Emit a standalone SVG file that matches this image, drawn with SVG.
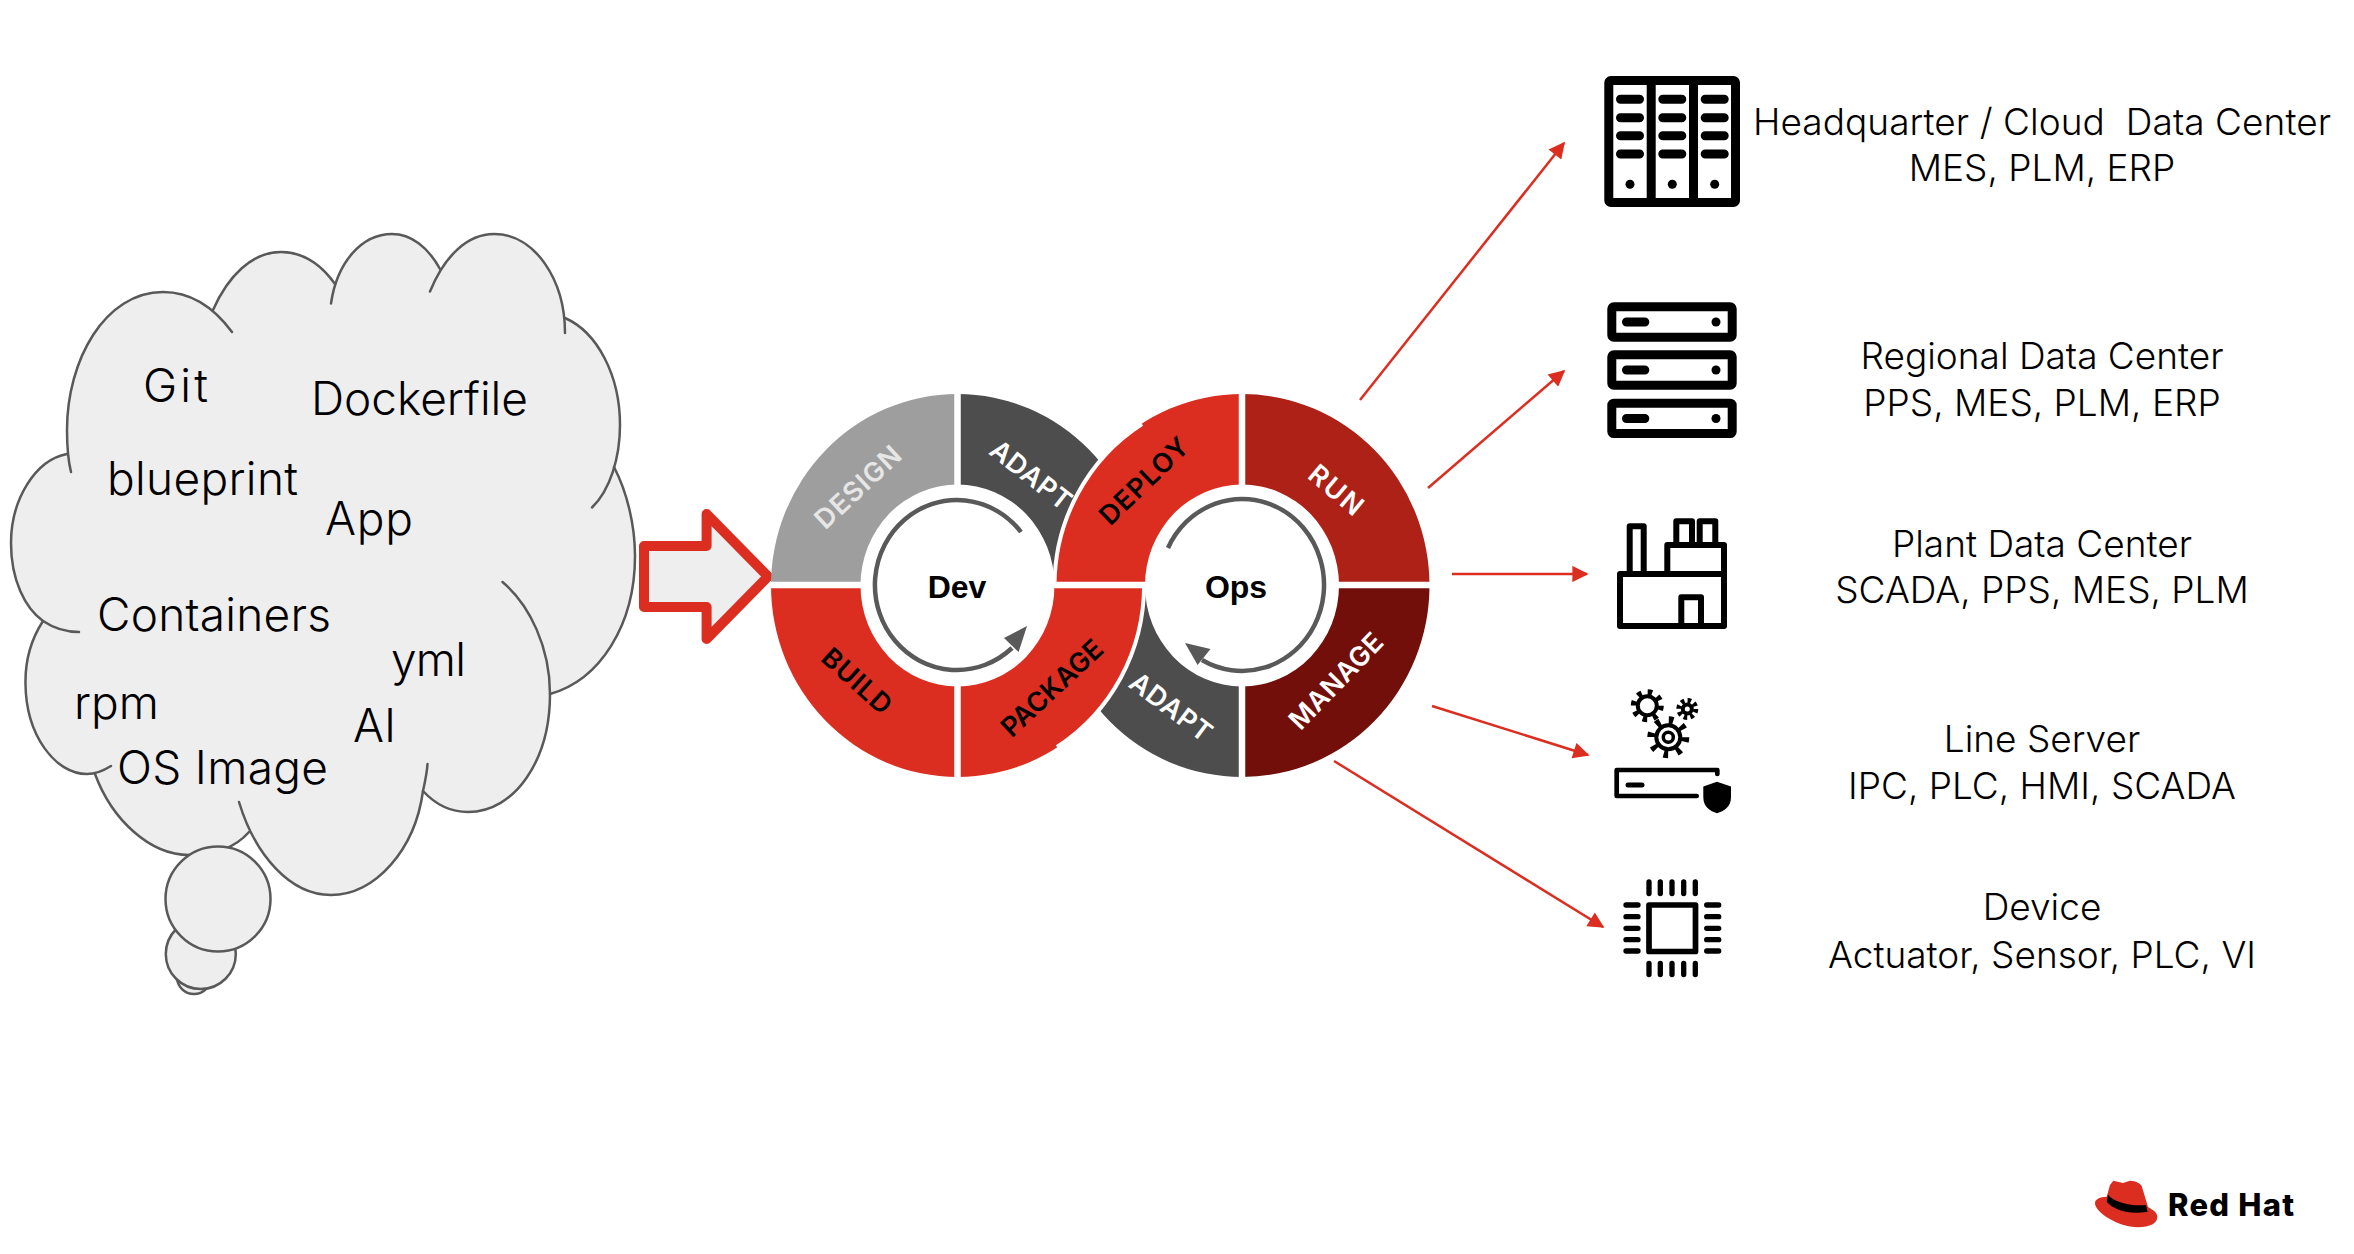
<svg xmlns="http://www.w3.org/2000/svg" width="2354" height="1254" viewBox="0 0 2354 1254">
<defs>
<style>
.c{fill:none;stroke:#595959;stroke-width:2.5;stroke-linecap:round}
.t{font-family:"Inter","Liberation Sans",sans-serif;font-size:46px;font-weight:350;fill:#000}
.r{font-family:"Inter","Liberation Sans",sans-serif;font-size:37px;font-weight:350;fill:#000;text-anchor:middle;white-space:pre}
.l{font-family:"Inter","Liberation Sans",sans-serif;font-size:27px;font-weight:600;text-anchor:middle;dominant-baseline:central}
.w{fill:#fff}.k{fill:#000}
.d{fill:#4d4d4d}.e{fill:#dc2e20}
.a{stroke:#dc2e20;stroke-width:2.5;fill:none;marker-end:url(#h)}
.i{fill:none;stroke:#000;stroke-linejoin:round;stroke-linecap:round}
.g{font-family:"Liberation Sans",sans-serif;font-size:32px;font-weight:700;text-anchor:middle;fill:#000}
</style>
<marker id="h" viewBox="0 0 10 10" refX="9" refY="5" markerWidth="8" markerHeight="6.5" orient="auto" markerUnits="strokeWidth"><path d="M0,0L10,5L0,10Z" fill="#dc2e20"/></marker>
</defs>
<rect width="2354" height="1254" fill="#fff"/>
<g id="cloud">
<path fill="#eee" d="M67,454C35,460 11,500 11,543C11,580 25,608 43,621C32,638 25,660 25.5,684C26,735 55,774 87,774L95,774C112,820 150,855 189,855C215,855 235,848 249,832C270,870 300,895 331,895C375,895 415,850 423,791C435,804 450,812 468,812C515,812 550,760 550,694C600,680 635,625 635,556C635,525 627,492 614,467C618,455 620,440 620,425C620,375 597,332 565,318C560,272 535,234 494,234C468,234 450,250 440,269C428,247 411,234 392,234C367,234 345,252 335,284C320,263 302,252 281,252C252,252 228,276 213,310C197,298 180,292 163,292C105,292 67,360 67,430Z"/>
<path class="c" d="M232,332C212,305 190,292 163,292C105,292 67,360 67,430C67,445 68,460 71,472"/>
<path class="c" d="M67,454C35,460 11,500 11,543C11,580 25,608 43,621C55,629 67,632 79,632"/>
<path class="c" d="M43,621C32,638 25,660 25.5,684C26,735 55,774 87,774C95,774 103,771 111,766"/>
<path class="c" d="M95,774C112,820 150,855 189,855C215,855 235,848 249,832"/>
<path class="c" d="M239,802C255,855 290,895 331,895C375,895 415,850 423,791C425,782 427,773 427.5,764"/>
<path class="c" d="M423,791C435,804 450,812 468,812C515,812 550,760 550,694C550,648 530,605 502.5,582"/>
<path class="c" d="M550,694C600,680 635,625 635,556C635,525 627,492 614,467"/>
<path class="c" d="M592,507.5C610,490 620,458 620,425C620,375 597,332 565,318"/>
<path class="c" d="M565,333C565,280 535,234 494,234C468,234 445,255 430,291.5"/>
<path class="c" d="M440,269C428,247 411,234 392,234C362,234 337,262 331,303.5"/>
<path class="c" d="M335,284C320,263 302,252 281,252C252,252 228,276 213,310"/>
<circle cx="194" cy="977" r="17" fill="#eee" stroke="#595959" stroke-width="2.5"/>
<circle cx="200.8" cy="954" r="35" fill="#eee" stroke="#595959" stroke-width="2.5"/>
<circle cx="218" cy="899" r="52.5" fill="#eee" stroke="#595959" stroke-width="2.5"/>
<text class="t" x="143" y="402" textLength="65">Git</text>
<text class="t" x="311" y="415" textLength="217">Dockerfile</text>
<text class="t" x="107" y="495" textLength="191">blueprint</text>
<text class="t" x="325" y="535" textLength="88">App</text>
<text class="t" x="97" y="631" textLength="234">Containers</text>
<text class="t" x="391" y="676" textLength="75">yml</text>
<text class="t" x="74" y="719" textLength="85">rpm</text>
<text class="t" x="353" y="742">AI</text>
<text class="t" x="117" y="784" textLength="211">OS Image</text>
</g>
<g id="big-arrow">
<path d="M644,546H706.6V514L768,576.5L706.6,639V607H644Z" fill="#eee" stroke="#dc2e20" stroke-width="10" stroke-linejoin="round"/>
</g>
<g id="loop">
<path id="q-design" fill="#9e9e9e" d="M957.5,394A186.6,191.5 0 0 0 771,585.5H860.5A97,101 0 0 1 957.5,484.5Z"/>
<path id="q-adapt1" class="d" d="M957.5,394A186.6,191.5 0 0 1 1144.1,585.5H1054.5A97,101 0 0 0 957.5,484.5Z"/>
<path id="q-build" class="e" d="M957.5,777A186.6,191.5 0 0 1 771,585.5H860.5A97,101 0 0 0 957.5,686.5Z"/>
<path id="q-run" fill="#ad2117" d="M1242,394A187.5,191.5 0 0 1 1429.5,585.5H1339A97,101 0 0 0 1242,484.5Z"/>
<path id="q-manage" fill="#730f0a" d="M1242,777A187.5,191.5 0 0 0 1429.5,585.5H1339A97,101 0 0 1 1242,686.5Z"/>
<path id="q-adapt2" class="d" d="M1242,777A187.5,191.5 0 0 1 1054.5,585.5H1145A97,101 0 0 0 1242,686.5Z"/>
<text class="l" fill="#e6e6e6" transform="translate(858,487) rotate(-43)" textLength="107">DESIGN</text>
<text class="l" fill="#fff" transform="translate(1031,475) rotate(38)" textLength="95">ADAPT</text>
<text class="l" fill="#000" transform="translate(857,681) rotate(42)" textLength="84">BUILD</text>
<text class="l" fill="#fff" transform="translate(1336,490) rotate(40)" textLength="62">RUN</text>
<text class="l" fill="#fff" transform="translate(1336,681) rotate(-46)" textLength="122">MANAGE</text>
<text class="l" fill="#fff" transform="translate(1171,707) rotate(37)" textLength="95">ADAPT</text>
<path id="q-deploy" class="e" d="M1242,394A187.5,191.5 0 0 0 1054.5,585.5H1145A97,101 0 0 1 1242,484.5Z"/>
<path fill="none" stroke="#fff" stroke-width="4" d="M1142,424A187.5,191.5 0 0 0 1054.5,585.5"/>
<path id="q-package" class="e" d="M957.5,777A186.6,191.5 0 0 0 1144.1,585.5H1054.5A97,101 0 0 1 957.5,686.5Z"/>
<path fill="none" stroke="#fff" stroke-width="4" d="M1057,747A186.6,191.5 0 0 0 1144.1,585.5"/>
<text class="l" fill="#000" transform="translate(1144,481) rotate(-44)" textLength="112">DEPLOY</text>
<text class="l" fill="#000" transform="translate(1052,688) rotate(-43)" textLength="128">PACKAGE</text>
<g stroke="#fff" stroke-width="6.5" fill="none">
<path d="M771,585H1430M957.5,390V490M957.5,680V780M1242,390V490M1242,680V780"/>
</g>
<path d="M1021,532A82,85 0 1 0 1012,648" fill="none" stroke="#595959" stroke-width="4.5"/>
<path d="M1027,626L1004,638L1018.6,652Z" fill="#595959"/>
<path d="M1168,548A82,86 0 1 1 1202,660" fill="none" stroke="#595959" stroke-width="4.5"/>
<path d="M1185,643L1210.5,649L1197.6,665Z" fill="#595959"/>
<text class="g" x="957" y="598">Dev</text>
<text class="g" x="1236" y="598">Ops</text>
</g>
<g id="connectors">
<path class="a" d="M1360,400L1564,143"/>
<path class="a" d="M1428,488L1564,371"/>
<path class="a" d="M1452,574L1587,574"/>
<path class="a" d="M1432,706L1588,755"/>
<path class="a" d="M1334,761L1603,927"/>
</g>
<g id="node-hq">
<rect x="1608.8" y="80.5" width="126.7" height="122" rx="2" class="i" stroke-width="9"/>
<path class="i" stroke-width="9" d="M1651.2,80.5V202.5M1693.5,80.5V202.5"/>
<g class="i" stroke-width="9">
<path d="M1620.5,99.3H1639.5M1620.5,117.7H1639.5M1620.5,135.7H1639.5M1620.5,154H1639.5"/>
<path d="M1662.8,99.3H1681.8M1662.8,117.7H1681.8M1662.8,135.7H1681.8M1662.8,154H1681.8"/>
<path d="M1705.2,99.3H1724.2M1705.2,117.7H1724.2M1705.2,135.7H1724.2M1705.2,154H1724.2"/>
</g>
<circle class="k" cx="1630" cy="184.3" r="4.5"/><circle class="k" cx="1672.3" cy="184.3" r="4.5"/><circle class="k" cx="1714.7" cy="184.3" r="4.5"/>
<text class="r" x="2042" y="135" textLength="578" xml:space="preserve">Headquarter / Cloud  Data Center</text>
<text class="r" x="2042" y="181">MES, PLM, ERP</text>
</g>
<g id="node-regional">
<rect x="1611.8" y="306.8" width="120.4" height="30.4" rx="2" class="i" stroke-width="9"/>
<rect x="1611.8" y="354.8" width="120.4" height="30.4" rx="2" class="i" stroke-width="9"/>
<rect x="1611.8" y="403.2" width="120.4" height="30.4" rx="2" class="i" stroke-width="9"/>
<path class="i" stroke-width="9" d="M1626.5,322H1644.8M1626.5,370H1644.8M1626.5,418.5H1644.8"/>
<circle class="k" cx="1716" cy="322" r="4.5"/><circle class="k" cx="1716" cy="370" r="4.5"/><circle class="k" cx="1716" cy="418.5" r="4.5"/>
<text class="r" x="2042" y="369">Regional Data Center</text>
<text class="r" x="2042" y="416">PPS, MES, PLM, ERP</text>
</g>
<g id="node-plant">
<path class="i" stroke-width="6" d="M1620,574H1724V626H1620ZM1667.3,574V545H1724V574M1629.7,574V526.3H1643.7V574M1676.3,545V521.3H1692V545M1699.7,545V521.3H1715.3V545M1681.3,626V597.3H1701V626"/>
<text class="r" x="2042" y="557">Plant Data Center</text>
<text class="r" x="2042" y="603">SCADA, PPS, MES, PLM</text>
</g>
<g id="node-line">
<g fill="none" stroke="#000">
<circle cx="1668.3" cy="737.3" r="12" stroke-width="4"/>
<circle cx="1668.3" cy="737.3" r="5" stroke-width="3.5"/>
<circle cx="1668.3" cy="737.3" r="17" stroke-width="8" stroke-dasharray="4.5 8.85"/>
<circle cx="1647.3" cy="705.7" r="9.5" stroke-width="4"/>
<circle cx="1647.3" cy="705.7" r="13.5" stroke-width="6" stroke-dasharray="4.5 6.1"/>
<circle cx="1687.3" cy="709" r="4.5" stroke-width="4"/>
<circle cx="1687.3" cy="709" r="8.5" stroke-width="5" stroke-dasharray="3.5 3.18"/>
</g>
<path class="i" stroke-width="4.7" d="M1717.3,774V770H1616.7V796H1696.7"/>
<path class="i" stroke-width="5" d="M1628,785H1642"/>
<path class="k" d="M1717,781.7L1731,786.5V797C1731,807 1724,811 1717,813.3C1710,811 1703.3,807 1703.3,797V786.5Z"/>
<text class="r" x="2042" y="752">Line Server</text>
<text class="r" x="2042" y="799">IPC, PLC, HMI, SCADA</text>
</g>
<g id="node-device">
<rect x="1649" y="905" width="46.5" height="46.5" class="i" stroke-width="5.7"/>
<path class="i" stroke-width="5.3" d="M1649,882V893.5M1660.3,882V893.5M1672,882V893.5M1683.7,882V893.5M1695.3,882V893.5M1649,963.5V974.5M1660.3,963.5V974.5M1672,963.5V974.5M1683.7,963.5V974.5M1695.3,963.5V974.5M1626,905H1638M1626,916.7H1638M1626,928.3H1638M1626,939.7H1638M1626,951H1638M1706.7,905H1718.7M1706.7,916.7H1718.7M1706.7,928.3H1718.7M1706.7,939.7H1718.7M1706.7,951H1718.7"/>
<text class="r" x="2042" y="920">Device</text>
<text class="r" x="2042" y="968">Actuator, Sensor, PLC, VI</text>
</g>
<g id="logo">
<path class="e" d="M2113.3,1180.7L2123,1183L2130,1180.7C2136,1181 2140,1183 2141.7,1186L2148,1207C2153,1210 2157.3,1212 2157.3,1217C2157.3,1223 2150,1227.3 2138,1227.3C2118,1227.3 2095,1212 2095,1203.3C2095,1199 2100,1197 2106.7,1196.7L2110,1185Z"/>
<path class="k" d="M2108,1194.7C2113.3,1201.7 2130,1206.7 2146,1205L2147.7,1211.7C2130,1215 2113.3,1210 2106.7,1201.7Z"/>
<text x="2168" y="1216" font-family="Inter, Liberation Sans, sans-serif" font-size="31" font-weight="800" fill="#000" textLength="126">Red Hat</text>
</g>
</svg>
